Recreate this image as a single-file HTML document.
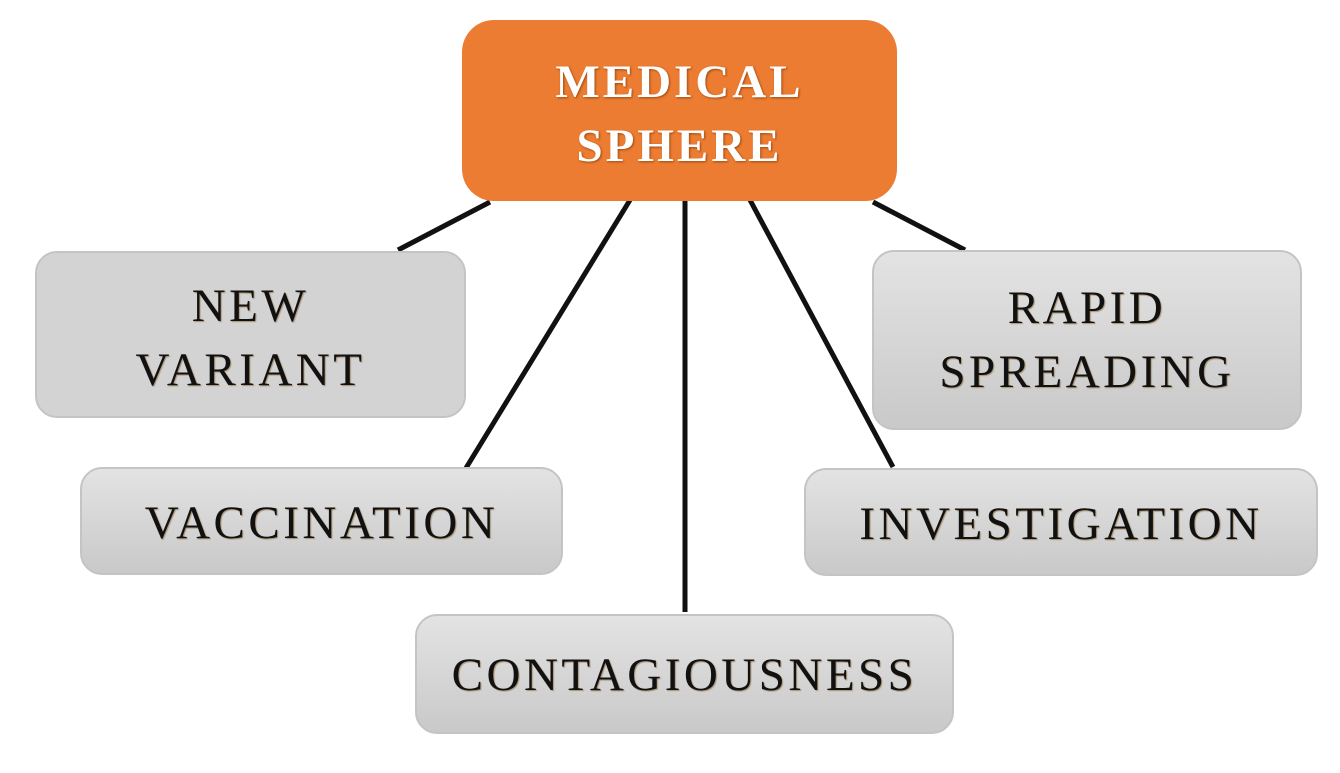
<!DOCTYPE html>
<html><head><style>
body{margin:0;width:1340px;height:773px;background:#fff;position:relative;overflow:hidden;font-family:"Liberation Serif",serif;}
.b{position:absolute;box-sizing:border-box;border:2px solid #c4c4c4;border-radius:22px;background:linear-gradient(#e3e3e3,#c9c9c9);display:flex;align-items:center;justify-content:center;text-align:center;font-size:47px;letter-spacing:3.5px;line-height:64px;color:#111;text-shadow:1px 1px 1px #a89070;}
svg{position:absolute;left:0;top:0}
</style></head><body>
<svg width="1340" height="773"><g stroke="#111" stroke-width="5">
<line x1="490" y1="202" x2="398" y2="250"/>
<line x1="630" y1="200" x2="466" y2="468"/>
<line x1="685" y1="200" x2="685" y2="612"/>
<line x1="750" y1="200" x2="893" y2="467"/>
<line x1="873" y1="202" x2="965" y2="250"/>
</g></svg>
<div class="b" style="left:462px;top:20px;width:435px;height:181px;background:#ec7c32;border:none;border-radius:32px;color:#fff;font-weight:bold;text-shadow:1px 1px 2px #9a4a10;font-size:47px;letter-spacing:3px;line-height:64px;padding-top:6px">MEDICAL<br>SPHERE</div>
<div class="b" style="left:35px;top:251px;width:431px;height:167px;background:#d3d3d3;padding-top:6px">NEW<br>VARIANT</div>
<div class="b" style="left:80px;top:467px;width:483px;height:108px;padding-top:4px">VACCINATION</div>
<div class="b" style="left:415px;top:614px;width:539px;height:120px;padding-top:2px">CONTAGIOUSNESS</div>
<div class="b" style="left:804px;top:468px;width:514px;height:108px;padding-top:4px">INVESTIGATION</div>
<div class="b" style="left:872px;top:250px;width:430px;height:180px">RAPID<br>SPREADING</div>
</body></html>
